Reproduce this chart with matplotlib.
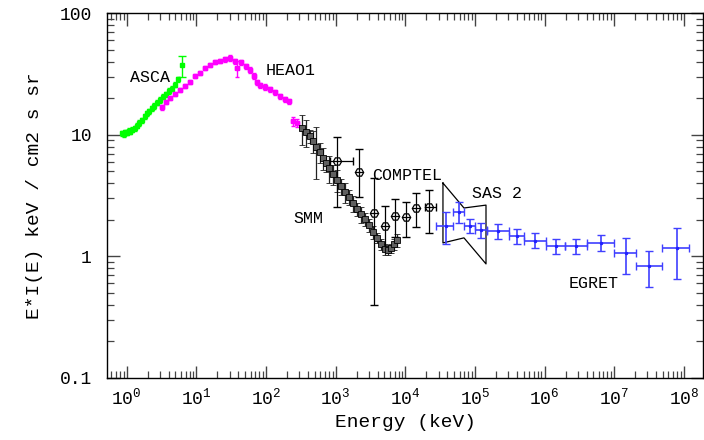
import numpy as np
import matplotlib
matplotlib.use('Agg')
from matplotlib import pyplot as plt
from matplotlib.ticker import LogLocator, FixedLocator, FixedFormatter, NullFormatter

plt.rcParams['font.family'] = ['Liberation Mono', 'DejaVu Sans Mono']
plt.rcParams['mathtext.fontset'] = 'custom'
plt.rcParams['mathtext.rm'] = 'Liberation Mono'
plt.rcParams['mathtext.it'] = 'Liberation Mono'

# ASCA (keV, E*I(E))
asca_e = [0.85, 0.90, 0.95, 1.00, 1.06, 1.12, 1.20, 1.30, 1.40, 1.52, 1.65, 1.80,
          1.95, 2.10, 2.30, 2.50, 2.75, 3.00, 3.30, 3.65, 4.00, 4.40, 4.90, 5.40]
asca_v = [10.3, 10.1, 10.5, 10.4, 10.8, 10.6, 11.0, 11.3, 11.9, 12.5, 13.2, 14.2,
          15.0, 15.6, 16.5, 17.3, 18.4, 19.3, 20.6, 21.5, 23.0, 24.0, 25.8, 28.5]
asca_extra_e = [6.17]
asca_extra_v = [37.4]
asca_extra_lo = [7.6]
asca_extra_hi = [6.9]

# HEAO1
heao_e = [3.18, 3.63, 4.15, 4.89, 5.77, 6.81, 8.04, 9.48, 11.2, 13.2, 15.6, 18.4,
          21.7, 25.6, 30.2, 35.6, 38.0, 43.5, 51.3, 58.5, 66.8, 73.8, 81.5, 96.1,
          113, 134, 158, 186, 213, 243, 277]
heao_v = [16.9, 18.6, 20.0, 21.6, 23.3, 25.1, 27.1, 30.4, 32.2, 35.4, 37.4, 39.6,
          40.3, 41.9, 42.7, 40.3, 35.4, 39.6, 36.6, 34.1, 30.4, 27.1, 25.6, 24.7,
          23.7, 22.4, 20.7, 19.6, 18.9, 12.9, 12.5]
heao_frac = [0.05, 0.04, 0.04, 0.04, 0.04, 0.04, 0.04, 0.04, 0.04, 0.04, 0.04, 0.04,
             0.04, 0.05, 0.06, 0.05, 0.15, 0.05, 0.05, 0.05, 0.05, 0.05, 0.05, 0.05,
             0.05, 0.05, 0.05, 0.05, 0.05, 0.08, 0.08]

# SMM
smm_e = [327, 373, 426, 470, 519, 593, 655, 723, 798, 912, 1040, 1190, 1360, 1550,
         1770, 2020, 2300, 2630, 3000, 3420, 3910, 4460, 5090, 5620, 6210, 6860, 7570]
smm_v = [11.35, 10.5, 9.76, 8.87, 7.92, 7.21, 6.44, 5.85, 5.33, 4.75, 4.25, 3.79,
         3.38, 3.08, 2.75, 2.45, 2.23, 2.03, 1.81, 1.58, 1.42, 1.26, 1.15, 1.13,
         1.17, 1.26, 1.36]
smm_frac = [0.27, 0.25, 0.13, 0.2, 0.45, 0.18, 0.2, 0.15, 0.25, 0.18, 0.2, 0.15,
            0.18, 0.14, 0.15, 0.12, 0.15, 0.13, 0.12, 0.12, 0.1, 0.1, 0.1, 0.09,
            0.09, 0.1, 0.12]

# COMPTEL
comptel_e = [1040, 2150, 3540, 5090, 7090, 10200, 14200, 21800]
comptel_v = [6.1, 4.94, 2.27, 1.78, 2.15, 2.1, 2.5, 2.56]
comptel_lo = [2.55, 3.06, 0.40, 1.2, 1.45, 1.45, 1.74, 1.55]
comptel_hi = [9.6, 7.6, 4.4, 2.6, 2.97, 2.8, 3.3, 3.5]
comptel_elo = [820, 2150, 3540, 5090, 7090, 10200, 14200, 19000]
comptel_ehi = [1770, 2150, 3540, 5090, 7090, 10200, 14200, 28000]

# SAS 2 butterfly
sas2_e = [34700, 69500, 144000]
sas2_hi = [4.01, 2.50, 2.64]
sas2_lo = [1.29, 1.42, 0.867]

# EGRET
egret_e = [38300, 58900, 84800, 122000, 214000, 401000, 728000, 1.46e6, 2.83e6,
           6.46e6, 1.48e7, 3.16e7, 7.98e7]
egret_v = [1.78, 2.33, 1.78, 1.64, 1.62, 1.47, 1.34, 1.21, 1.21, 1.29, 1.07, 0.838, 1.17]
egret_lo = [1.27, 1.88, 1.56, 1.42, 1.40, 1.27, 1.17, 1.04, 1.04, 1.11, 0.71, 0.56, 0.65]
egret_hi = [2.33, 2.8, 2.02, 1.88, 1.85, 1.67, 1.56, 1.40, 1.40, 1.51, 1.42, 1.11, 1.70]
egret_elo = [28000, 48000, 69500, 99600, 149000, 307000, 502000, 1.03e6, 1.97e6,
             4.07e6, 9.98e6, 2.07e7, 4.9e7]
egret_ehi = [48000, 69500, 99600, 149000, 307000, 502000, 1.03e6, 1.97e6, 4.07e6,
             9.98e6, 2.07e7, 4.9e7, 1.2e8]

labels = [('ASCA', 2.14, 29.8), ('HEAO1', 227, 34), ('COMPTEL', 10500, 4.66),
          ('SMM', 412, 2.03), ('SAS 2', 207000, 3.32), ('EGRET', 5.13e6, 0.593)]

x_ticks = [1e0, 1e1, 1e2, 1e3, 1e4, 1e5, 1e6, 1e7, 1e8]
x_ticklabels = ['$10^{%d}$' % i for i in range(9)]
y_ticks = [0.1, 1, 10, 100]
y_ticklabels = ['0.1', '1', '10', '100']


def asym(v, lo, hi):
    v = np.array(v)
    return [v - np.array(lo), np.array(hi) - v]


fig = plt.figure(figsize=(7.04, 4.40), dpi=100)
ax = fig.add_axes([0.152, 0.141, 0.847, 0.829])
ax.set_xscale('log')
ax.set_yscale('log')

# ASCA
a_e = np.array(asca_e)
a_v = np.array(asca_v)
ax.errorbar(a_e, a_v, xerr=a_e * 0.03, yerr=a_v * 0.05, fmt='s', ms=2.5,
            color='#00ff00', mec='#00ff00', elinewidth=1.2, capsize=1.5)
ax.errorbar(asca_extra_e, asca_extra_v, yerr=[asca_extra_lo, asca_extra_hi], fmt='s',
            ms=2.5, color='#00ff00', elinewidth=1, capsize=3)

# HEAO1
h_e = np.array(heao_e)
h_v = np.array(heao_v)
ax.errorbar(h_e, h_v, xerr=h_e * 0.06, yerr=h_v * np.array(heao_frac), fmt='s', ms=2.5,
            color='#ff00ff', elinewidth=1, capsize=1.5)

# SMM
s_v = np.array(smm_v)
ax.errorbar(smm_e, s_v, yerr=s_v * np.array(smm_frac), fmt='s', ms=5,
            mfc='#606060', mec='black', mew=0.6, color='black', ecolor='#222222',
            elinewidth=0.9, capsize=2.5)

# COMPTEL
c_e = np.array(comptel_e)
ax.errorbar(c_e, comptel_v, xerr=[c_e - np.array(comptel_elo), np.array(comptel_ehi) - c_e],
            yerr=asym(comptel_v, comptel_lo, comptel_hi), fmt='none', ecolor='black',
            elinewidth=0.9, capsize=3)
ax.plot(comptel_e, comptel_v, 'H', ms=6, mfc='white', mec='black', mew=0.9)
ax.plot(comptel_e, comptel_v, '+', ms=6, color='black', mew=0.9)

# SAS 2 bowtie
bx = list(sas2_e) + list(sas2_e[::-1]) + [sas2_e[0]]
by = list(sas2_hi) + list(sas2_lo[::-1]) + [sas2_hi[0]]
ax.plot(bx, by, color='black', lw=0.9)

# EGRET
g_e = np.array(egret_e)
ax.errorbar(g_e, egret_v, xerr=[g_e - np.array(egret_elo), np.array(egret_ehi) - g_e],
            yerr=asym(egret_v, egret_lo, egret_hi), fmt='.', ms=3, color='#2020ff',
            ecolor='#4040ff', elinewidth=1.2, capsize=3)

for txt, x, y in labels:
    ax.text(x, y, txt, fontsize=12, ha='center', va='center')

ax.set_xlim(0.52, 1.9e8)
ax.set_ylim(0.1, 100)

ax.xaxis.set_major_locator(FixedLocator(x_ticks))
ax.xaxis.set_major_formatter(FixedFormatter(x_ticklabels))
ax.xaxis.set_minor_locator(LogLocator(base=10, subs=np.arange(2, 10), numticks=20))
ax.xaxis.set_minor_formatter(NullFormatter())
ax.yaxis.set_major_locator(FixedLocator(y_ticks))
ax.yaxis.set_major_formatter(FixedFormatter(y_ticklabels))
ax.yaxis.set_minor_locator(LogLocator(base=10, subs=np.arange(2, 10), numticks=20))
ax.yaxis.set_minor_formatter(NullFormatter())

ax.tick_params(which='both', direction='in', top=True, right=True, color='#444444')
ax.tick_params(which='major', length=9, width=1, labelsize=13)
ax.tick_params(axis='y', which='major', pad=11)
ax.tick_params(axis='x', which='major', pad=7)
ax.tick_params(which='minor', length=5, width=0.9)
for sp in ax.spines.values():
    sp.set_linewidth(1)

ax.set_xlabel('Energy (keV)', fontsize=14)
ax.set_ylabel('E*I(E) keV / cm2 s sr', fontsize=14, labelpad=12)

fig.savefig('out.png', dpi=100)
